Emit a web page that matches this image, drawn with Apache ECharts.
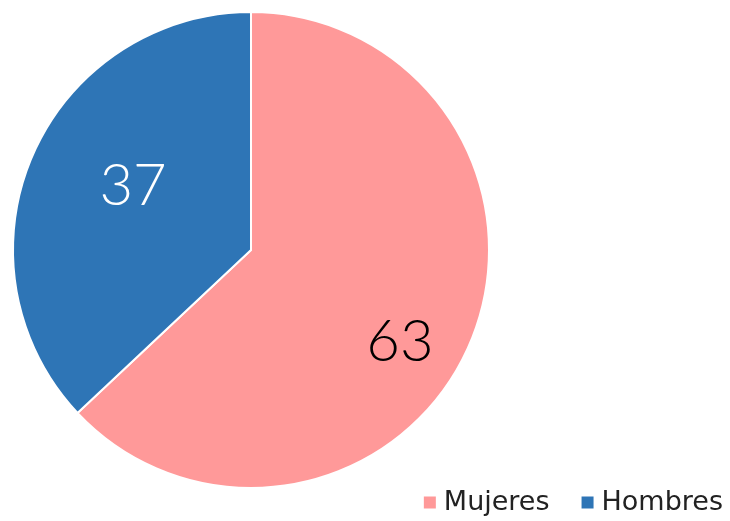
<!DOCTYPE html>
<html>
<head>
<meta charset="utf-8">
<script src="https://cdn.jsdelivr.net/npm/echarts@6/dist/echarts.min.js"></script>
<style>
  html, body { margin: 0; padding: 0; background: #fff; }
  #chart { width: 730px; height: 521px; }
</style>
</head>
<body>
<div id="chart"></div>
<script>
// datos
const categories = ['Mujeres', 'Hombres']
const values = [63, 37]
const colors = ['#FF9999', '#2E75B6']
const labelColors = ['#000000', '#ffffff']
// desplazamiento de las etiquetas respecto a la posicion "inside"
const labelShift = [[37, 44], [-6, -15]]

const chart = echarts.init(document.getElementById('chart'))
chart.setOption({
    animation: false,
    legend: {
        data: categories,
        right: 2,
        bottom: 0,
        icon: 'rect',
        itemWidth: 14,
        itemHeight: 14,
        itemGap: 30,
        textStyle: {
            fontFamily: 'DejaVu Sans',
            fontSize: 27,
            color: '#222',
            padding: [0, 0, 0, 2]
        }
    },
    series: [
        {
            type: 'pie',
            center: [251, 250],
            radius: 238,
            startAngle: 90,
            clockwise: true,
            avoidLabelOverlap: false,
            itemStyle: {
                borderColor: '#fff',
                borderWidth: 2
            },
            label: {
                show: true,
                position: 'inside',
                formatter: '{c}',
                fontFamily: 'Lato',
                fontWeight: 300,
                fontSize: 58
            },
            labelLayout: params => ({
                dx: labelShift[params.dataIndex][0],
                dy: labelShift[params.dataIndex][1]
            }),
            emphasis: { disabled: true },
            data: categories.map((name, i) => ({
                name,
                value: values[i],
                itemStyle: { color: colors[i] },
                label: { color: labelColors[i] }
            }))
        }
    ]
})
</script>
</body>
</html>
